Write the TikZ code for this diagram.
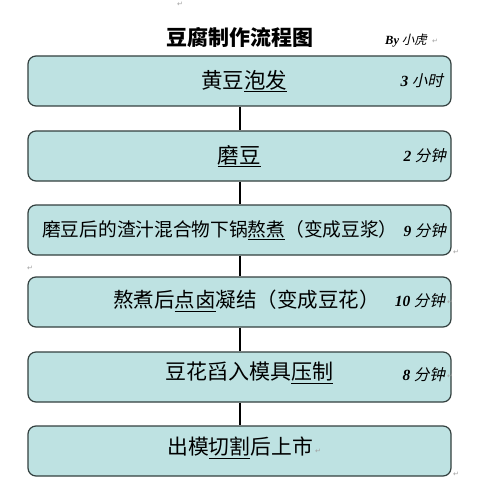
\documentclass[tikz,border=0pt]{standalone}
\usepackage{fontspec}
\setmainfont{Noto Sans CJK SC}
\newfontfamily\cjk{Noto Sans CJK SC}
\newfontfamily\cjkit{Noto Sans CJK SC}[FakeSlant=0.22]
\newfontfamily\numit{Liberation Serif}
\newfontfamily\symf{DejaVu Sans}
\definecolor{boxfill}{HTML}{BEE2E2}
\definecolor{boxline}{HTML}{33403F}
\definecolor{markgray}{HTML}{A0A0A0}
\newcommand{\ulx}[1]{\underline{#1}}
\begin{document}
\begin{tikzpicture}[x=1pt,y=-1pt,
  stepbox/.style={draw=boxline,line width=1.2pt,fill=boxfill,rounded corners=8pt,
    minimum width=423pt,minimum height=50pt,inner sep=0pt},
  maintext/.style={inner sep=0pt,font=\cjk},
  timetext/.style={inner sep=0pt,anchor=east,font=\fontsize{15.5}{18}\selectfont},
  pmark/.style={inner sep=0pt,text=markgray,font=\symf\fontsize{7}{8}\selectfont},
  link/.style={line width=2pt,black}]
\useasboundingbox (0,0) rectangle (482,500);
\fill[white] (0,0) rectangle (482,500);
% title
\node[inner sep=0pt,font=\cjk\bfseries\fontsize{21}{24}\selectfont] (title) at (240,38) {豆腐制作流程图};
\node[inner sep=0pt,anchor=west,font=\fontsize{12.5}{14}\selectfont] (by) at (385,41) {{\numit\itshape\bfseries By} {\cjkit 小虎}};
% boxes
\node[stepbox] (b1) at (239.5,81) {};
\node[stepbox] (b2) at (239.5,156) {};
\node[stepbox] (b3) at (239.5,230) {};
\node[stepbox] (b4) at (239.5,302) {};
\node[stepbox] (b5) at (239.5,377) {};
\node[stepbox] (b6) at (239.5,451) {};
% connectors
\draw[link] (b1.south) -- (b2.north);
\draw[link] (b2.south) -- (b3.north);
\draw[link] (b3.south) -- (b4.north);
\draw[link] (b4.south) -- (b5.north);
\draw[link] (b5.south) -- (b6.north);
% main texts
\node[maintext,font=\cjk\fontsize{21.5}{24}\selectfont] (t1) at (244,81) {黄豆\ulx{泡发}};
\node[maintext,font=\cjk\fontsize{21.5}{24}\selectfont] (t2) at (239,156) {\ulx{磨豆}};
\node[maintext,anchor=west,font=\cjk\fontsize{18.7}{21}\selectfont] (t3) at (42,230) {磨豆后的渣汁混合物下锅\ulx{熬煮}（变成豆浆）};
\node[maintext,anchor=west,font=\cjk\fontsize{20.5}{23}\selectfont] (t4) at (113,301) {熬煮后\ulx{点卤}凝结（变成豆花）};
\node[maintext,anchor=west,font=\cjk\fontsize{21}{24}\selectfont] (t5) at (165,373) {豆花舀入模具\ulx{压制}};
\node[maintext,anchor=west,font=\cjk\fontsize{20.8}{24}\selectfont] (t6) at (167,448) {出模\ulx{切割}后上市};
% times
\node[timetext] (d1) at (443,81) {{\numit\itshape\bfseries 3} {\cjkit 小时}};
\node[timetext] (d2) at (446,156) {{\numit\itshape\bfseries 2} {\cjkit 分钟}};
\node[timetext] (d3) at (446,231) {{\numit\itshape\bfseries 9} {\cjkit 分钟}};
\node[timetext] (d4) at (445,301) {{\numit\itshape\bfseries 10} {\cjkit 分钟}};
\node[timetext] (d5) at (445,375) {{\numit\itshape\bfseries 8} {\cjkit 分钟}};
% paragraph marks
\node[pmark] (p0) at (180,4) {↵};
\node[pmark] (p1) at (435,41) {↵};
\node[pmark] (p2) at (456,252) {↵};
\node[pmark] (p3) at (30,268) {↵};
\node[pmark] (p4) at (450,302) {↵};
\node[pmark] (p5) at (450,376) {↵};
\node[pmark] (p6) at (318,451) {↵};
\node[pmark] (p7) at (456,474) {↵};
\end{tikzpicture}
\end{document}
